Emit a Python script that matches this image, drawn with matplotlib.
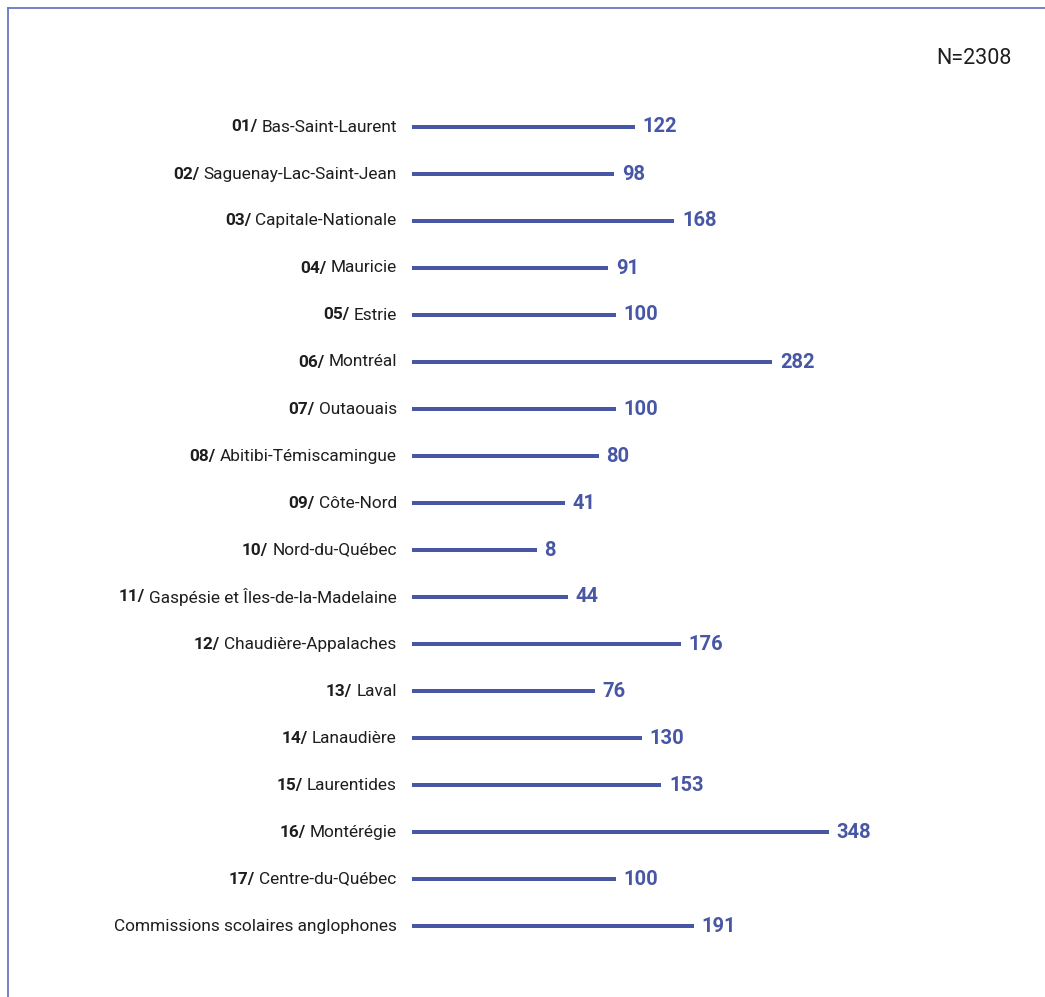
import matplotlib.pyplot as plt
from matplotlib.lines import Line2D

plt.rcParams['font.family'] = ['Roboto', 'DejaVu Sans']

codes = ["01/", "02/", "03/", "04/", "05/", "06/", "07/", "08/", "09/",
         "10/", "11/", "12/", "13/", "14/", "15/", "16/", "17/", ""]
regions = ["Bas-Saint-Laurent", "Saguenay-Lac-Saint-Jean", "Capitale-Nationale",
           "Mauricie", "Estrie", "Montréal", "Outaouais", "Abitibi-Témiscamingue",
           "Côte-Nord", "Nord-du-Québec", "Gaspésie et Îles-de-la-Madelaine",
           "Chaudière-Appalaches", "Laval", "Lanaudière", "Laurentides",
           "Montérégie", "Centre-du-Québec", "Commissions scolaires anglophones"]
values = [122, 98, 168, 91, 100, 282, 100, 80, 41, 8, 44, 176, 76, 130, 153,
          348, 100, 191]
total = 2308

BLUE = "#4757a5"
TEXT = "#1e1e1e"
base = -137

W, H = 1045, 997
fig = plt.figure(figsize=(W / 100, H / 100), dpi=100)

row = 47.0
px_per_unit = 0.86
xmax = 547
ax = fig.add_axes([412 / W, 1 - (127 + 17 * row + row / 2) / H,
                   (xmax - base) * px_per_unit / W, 18 * row / H])

y = list(range(len(values)))
ax.barh(y, [v - base for v in values], left=base, height=0.085, color=BLUE)
ax.set_xlim(base, xmax)
ax.set_ylim(len(values) - 0.5, -0.5)
ax.axis("off")

for i, (code, name, v) in enumerate(zip(codes, regions, values)):
    ax.annotate(f"{v}", xy=(v, i), xytext=(5.5, 0), textcoords="offset points",
                ha="left", va="center", fontsize=14.5, fontweight="bold",
                color=BLUE)
    t = ax.annotate(name, xy=(base, i), xytext=(-11, 0), textcoords="offset points",
                    ha="right", va="center", fontsize=12.4, color=TEXT)
    if code:
        ax.annotate(code, xy=(0, 0.5), xycoords=t, xytext=(-3, 0),
                    textcoords="offset points", ha="right", va="center",
                    fontsize=12.4, fontweight="bold", color=TEXT)

fig.text(1012 / W, 1 - 58 / H, f"N={total}", ha="right", va="center",
         fontsize=15.5, color=TEXT)

# frame on the left and top edges
fig.add_artist(Line2D([8 / W, 8 / W], [0, 1 - 8 / H], transform=fig.transFigure,
                      color="#5d6dc2", lw=1.2))
fig.add_artist(Line2D([8 / W, 1], [1 - 8 / H, 1 - 8 / H], transform=fig.transFigure,
                      color="#5d6dc2", lw=1.2))

fig.savefig("out.png", dpi=100, facecolor="white")
